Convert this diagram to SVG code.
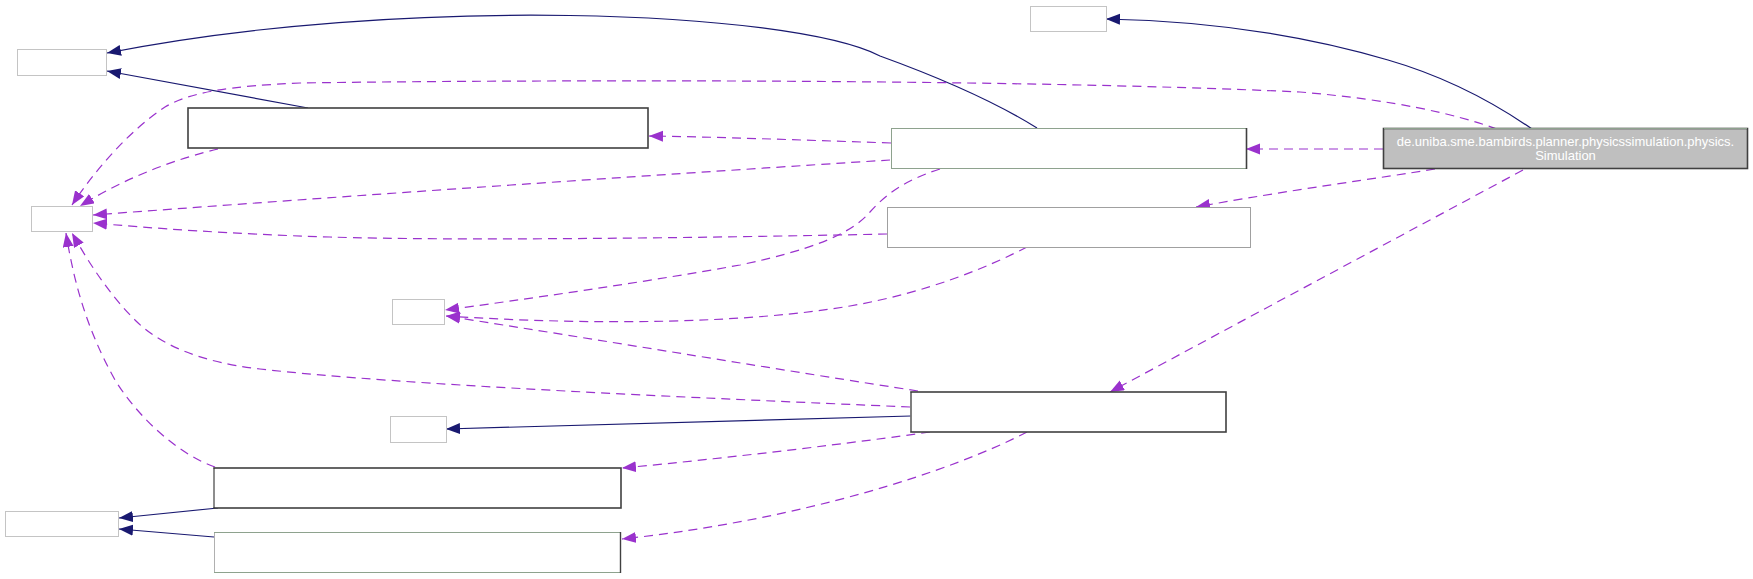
<svg xmlns="http://www.w3.org/2000/svg" width="1753" height="579" viewBox="0 0 1753 579">
<defs>
<style>
.box{fill:#ffffff;stroke-width:1}
.lt{stroke:#c4c4c4}
.gy{stroke:#a0a0a0}
.gr{stroke:#8ea28e}
.dk{stroke:#404040;stroke-width:1.6}
.edge{fill:none;stroke-width:1.2}
.inh{stroke:#191970;marker-end:url(#an)}
.use{stroke:#9a32cd;stroke-dasharray:9,6;marker-end:url(#ap)}
.lbl{font-family:"Liberation Sans",Arial,sans-serif;font-size:13px;fill:#ffffff;text-anchor:middle}
</style>
<marker id="an" markerUnits="userSpaceOnUse" markerWidth="15" markerHeight="12" refX="14" refY="5.5" orient="auto">
<path d="M0,0 L14,5.5 L0,11 z" fill="#191970"/>
</marker>
<marker id="ap" markerUnits="userSpaceOnUse" markerWidth="15" markerHeight="12" refX="14" refY="5.5" orient="auto">
<path d="M0,0 L14,5.5 L0,11 z" fill="#9a32cd"/>
</marker>
</defs>
<rect x="0" y="0" width="1753" height="579" fill="#ffffff"/>

<g id="connectors">
<path class="edge inh" d="M1037,128 C1005,108 960,85 880,56 C790,10 400,-5 107,53"/>
<path class="edge inh" d="M308,108 L107,71"/>
<path class="edge inh" d="M1532,129 C1490,100 1440,75 1388,60 C1300,34 1210,21 1106,19"/>
<path class="edge inh" d="M911,416 L446,429"/>
<path class="edge inh" d="M218,508 L119,518"/>
<path class="edge inh" d="M214,537 L119,529"/>

<path class="edge use" d="M1497,129 C1455,114 1395,100 1300,92 C1000,78 500,80 300,83 C230,86 190,92 165,107 C130,130 95,170 72,205"/>
<path class="edge use" d="M218,149 C180,158 130,175 80,206"/>
<path class="edge use" d="M891,143 C800,140 720,137 649,136"/>
<path class="edge use" d="M890,160 C700,172 400,192 93,215"/>
<path class="edge use" d="M887,234 C700,238 450,241 330,237 C230,234 150,228 93,223"/>
<path class="edge use" d="M1383,149 L1246,149"/>
<path class="edge use" d="M1435,169 C1380,178 1290,190 1196,207"/>
<path class="edge use" d="M1523,170 L1110,392"/>
<path class="edge use" d="M940,169 C905,180 885,195 870,212 C850,235 810,250 740,265 C640,283 520,300 445,310"/>
<path class="edge use" d="M1027,247 C990,266 930,292 850,306 C750,323 600,326 446,316"/>
<path class="edge use" d="M918,391 C800,373 600,340 446,316"/>
<path class="edge use" d="M910,407 C700,398 400,385 260,369 C200,362 160,345 135,320 C110,295 90,265 72,233"/>
<path class="edge use" d="M215,467 C180,455 140,420 115,380 C90,335 75,290 66,233"/>
<path class="edge use" d="M930,432 C860,442 730,458 622,468"/>
<path class="edge use" d="M1027,432 C950,472 800,520 622,539"/>
</g>

<g id="node-simulation">
<rect x="1383.5" y="128.5" width="364" height="40" fill="#bfbfbf" stroke="#404040" stroke-width="1.6"/>
<line x1="1384" y1="128.5" x2="1747" y2="128.5" stroke="#8ea28e" stroke-width="1"/>
<text class="lbl" x="1565.5" y="146">de.uniba.sme.bambirds.planner.physicssimulation.physics.</text>
<text class="lbl" x="1565.5" y="159.5">Simulation</text>
</g>

<g id="node-a"><rect class="box lt" x="17.5" y="49.5" width="89" height="26"/></g>
<g id="node-b"><rect class="box dk" x="188" y="108" width="460" height="40"/></g>
<g id="node-c"><rect class="box lt" x="31.5" y="206.5" width="61" height="25"/></g>
<g id="node-d">
<rect class="box gr" x="891.5" y="128.5" width="355" height="40"/>
<line x1="1246.5" y1="128" x2="1246.5" y2="169" stroke="#404040" stroke-width="1.6"/>
</g>
<g id="node-e"><rect class="box gy" x="887.5" y="207.5" width="363" height="40"/></g>
<g id="node-f"><rect class="box lt" x="392.5" y="299.5" width="52" height="25"/></g>
<g id="node-g"><rect class="box lt" x="390.5" y="416.5" width="56" height="26"/></g>
<g id="node-h">
<rect class="box dk" x="911" y="392" width="315" height="40"/>
<line x1="911" y1="393" x2="911" y2="431" stroke="#909090" stroke-width="1.2"/>
</g>
<g id="node-i">
<rect class="box dk" x="214" y="468" width="407" height="40"/>
<line x1="214" y1="469" x2="214" y2="507" stroke="#a8a8a8" stroke-width="1.2"/>
</g>
<g id="node-j"><rect class="box lt" x="5.5" y="511.5" width="113" height="25"/></g>
<g id="node-k">
<rect class="box gr" x="214.5" y="532.5" width="406" height="40"/>
<line x1="214.5" y1="533" x2="214.5" y2="572" stroke="#b0b0b0" stroke-width="1"/>
<line x1="620.5" y1="532" x2="620.5" y2="573" stroke="#404040" stroke-width="1.4"/>
</g>
<g id="node-top"><rect class="box lt" x="1030.5" y="6.5" width="76" height="25"/></g>
</svg>
